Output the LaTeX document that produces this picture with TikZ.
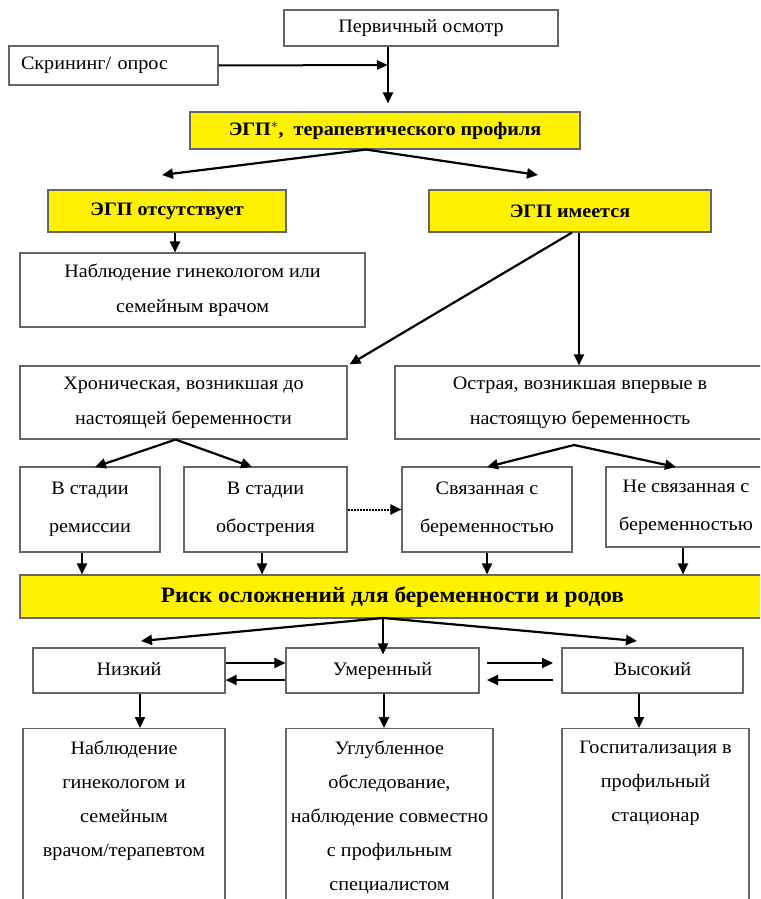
\documentclass[tikz,border=0pt]{standalone}
\usepackage{fontspec}
\setmainfont[FakeStretch=1.06]{Liberation Serif}
\usetikzlibrary{arrows.meta}
\begin{document}
\begin{tikzpicture}[x=1pt,y=-1pt,
  box/.style={draw=black!60, line width=1.1pt, fill=white, inner sep=0pt, align=center,
    font=\fontsize{19}{35}\selectfont},
  ybox/.style={box, fill=yellow, font=\fontsize{19}{22}\selectfont\bfseries},
  txt/.style={inner sep=0pt, align=center, font=\fontsize{19}{34}\selectfont},
  arr/.style={line width=2.2pt, -{Triangle[length=11pt,width=10pt]}},
  thinarr/.style={line width=2pt, -{Triangle[length=11pt,width=9pt]}}]
\useasboundingbox (0,0) rectangle (760,899);
\clip (0,0) rectangle (760,899);
\fill[white] (0,0) rectangle (760,899);

% top
\node[box, minimum width=274pt, minimum height=36pt] (perv) at (421,28) {Первичный осмотр};
\node[box, minimum width=209pt, minimum height=39pt, text width=185pt, align=left, inner xsep=12pt] (scr) at (113.5,65.5) {Скрининг/ опрос};
\node[ybox, minimum width=390pt, minimum height=37pt] (egp) at (385,130.5) {ЭГП$^{*}$,\ \ терапевтического профиля};
\coordinate (j) at (388,65);
\draw[thinarr] (scr.east) -- (j);
\draw[arr] (perv.south -| j) -- ([yshift=8pt]egp.north -| j);

% level 2
\node[ybox, minimum width=238pt, minimum height=42pt] (egp0) at (167,211) {ЭГП отсутствует};
\node[ybox, minimum width=282pt, minimum height=42pt] (egp1) at (570,211) {ЭГП имеется};
\coordinate (a0) at (162,175);
\coordinate (a1) at (538,175);
\draw[arr] ([xshift=-19pt]egp.south) -- (a0);
\draw[arr] ([xshift=-19pt]egp.south) -- (a1);

\node[box, minimum width=345pt, minimum height=74pt] (nabl) at (192.5,290) {Наблюдение гинекологом или\\семейным врачом};
\draw[arr] ([xshift=8pt]egp0.south) -- ([xshift=8pt]egp0.south |- nabl.north);

% level 3
\node[box, minimum width=327pt, minimum height=73pt] (chron) at (183.5,402.5) {Хроническая, возникшая до\\настоящей беременности};
\node[box, minimum width=370pt, minimum height=73pt] (acute) at (580,402.5) {Острая, возникшая впервые в\\настоящую беременность};
\draw[arr] ([xshift=2pt]egp1.south) -- ([xshift=2pt,yshift=1pt]chron.north east);
\draw[arr] ([xshift=9pt]egp1.south) -- ([xshift=9pt]egp1.south |- acute.north);

% level 4
\node[box, minimum width=140pt, minimum height=85pt, font=\fontsize{19}{38}\selectfont] (rem) at (90,509.5) {В стадии\\ремиссии};
\node[box, minimum width=163pt, minimum height=85pt, font=\fontsize{19}{38}\selectfont] (obo) at (265.5,509.5) {В стадии\\обострения};
\node[box, minimum width=170pt, minimum height=85pt, font=\fontsize{19}{38}\selectfont] (sv) at (487,509.5) {Связанная с\\беременностью};
\node[box, minimum width=160pt, minimum height=80pt, font=\fontsize{19}{38}\selectfont] (nesv) at (686,507) {Не связанная с\\беременностью};

\coordinate (c0) at (95,467);
\coordinate (c1) at (252,467);
\coordinate (d0) at (487,467);
\coordinate (d1) at (676,467);
\draw[arr] ([xshift=-8pt]chron.south) -- (c0);
\draw[arr] ([xshift=-8pt]chron.south) -- (c1);
\coordinate (ap) at (574,445);
\draw[arr] (ap) -- (d0);
\draw[arr] (ap) -- (d1);
\draw[line width=2pt, densely dotted, -{Triangle[length=11pt,width=10pt]}] (obo.east) -- (sv.west);

% risk
\node[ybox, minimum width=745pt, minimum height=43pt, font=\fontsize{22}{24}\selectfont\bfseries] (risk) at (392.5,596.5) {Риск осложнений для беременности и родов};
\draw[arr] ([xshift=-8pt]rem.south) -- ([xshift=-8pt]rem.south |- risk.north);
\draw[arr] ([xshift=-3.5pt]obo.south) -- ([xshift=-3.5pt]obo.south |- risk.north);
\draw[arr] (sv.south) -- (sv.south |- risk.north);
\draw[arr] ([xshift=-3pt]nesv.south) -- ([xshift=-3pt]nesv.south |- risk.north);

% level 5
\node[box, minimum width=192pt, minimum height=45pt, text depth=4pt] (low) at (129,670.5) {Низкий};
\node[box, minimum width=193pt, minimum height=45pt, text depth=4pt] (mod) at (382.5,670.5) {Умеренный};
\node[box, minimum width=181pt, minimum height=45pt, text depth=4pt] (high) at (652.5,670.5) {Высокий};

\coordinate (rp) at (383,618);
\coordinate (e0) at (141,641);
\coordinate (e2) at (637,641);
\draw[arr] (rp) -- (e0);
\draw[arr] (rp) -- (rp |- mod.north) -- +(0,-7pt);
\draw[arr] (rp) -- (e2);

\draw[arr] ([yshift=7.5pt]low.east) -- ([yshift=7.5pt]mod.west);
\draw[arr] ([yshift=-9.5pt]mod.west) -- ([yshift=-9.5pt]low.east);
\coordinate (m1) at (487,663);
\coordinate (m2) at (553,663);
\coordinate (m3) at (553,680);
\coordinate (m4) at (487,680);
\draw[arr] (m1) -- (m2);
\draw[arr] (m3) -- (m4);

% bottom
\node[box, minimum width=202pt, minimum height=200pt, anchor=north] (r1) at (124,728) {};
\node[box, minimum width=207pt, minimum height=200pt, anchor=north] (r2) at (389.5,728) {};
\node[box, minimum width=187pt, minimum height=200pt, anchor=north] (r3) at (655.5,728) {};
\node[txt, anchor=north] (t1) at ([yshift=-13pt]r1.north) {Наблюдение\\гинекологом и\\семейным\\врачом/терапевтом};
\node[txt, anchor=north] (t2) at ([yshift=-13pt]r2.north) {Углубленное\\обследование,\\наблюдение совместно\\с профильным\\специалистом};
\node[txt, anchor=north] (t3) at ([yshift=-13pt]r3.north) {Госпитализация в\\профильный\\стационар};

\draw[arr] ([xshift=11pt]low.south) -- ([xshift=11pt]low.south |- r1.north);
\draw[arr] ([xshift=1.5pt]mod.south) -- ([xshift=1.5pt]mod.south |- r2.north);
\draw[arr] ([xshift=-13.5pt]high.south) -- ([xshift=-13.5pt]high.south |- r3.north);
\end{tikzpicture}
\end{document}
